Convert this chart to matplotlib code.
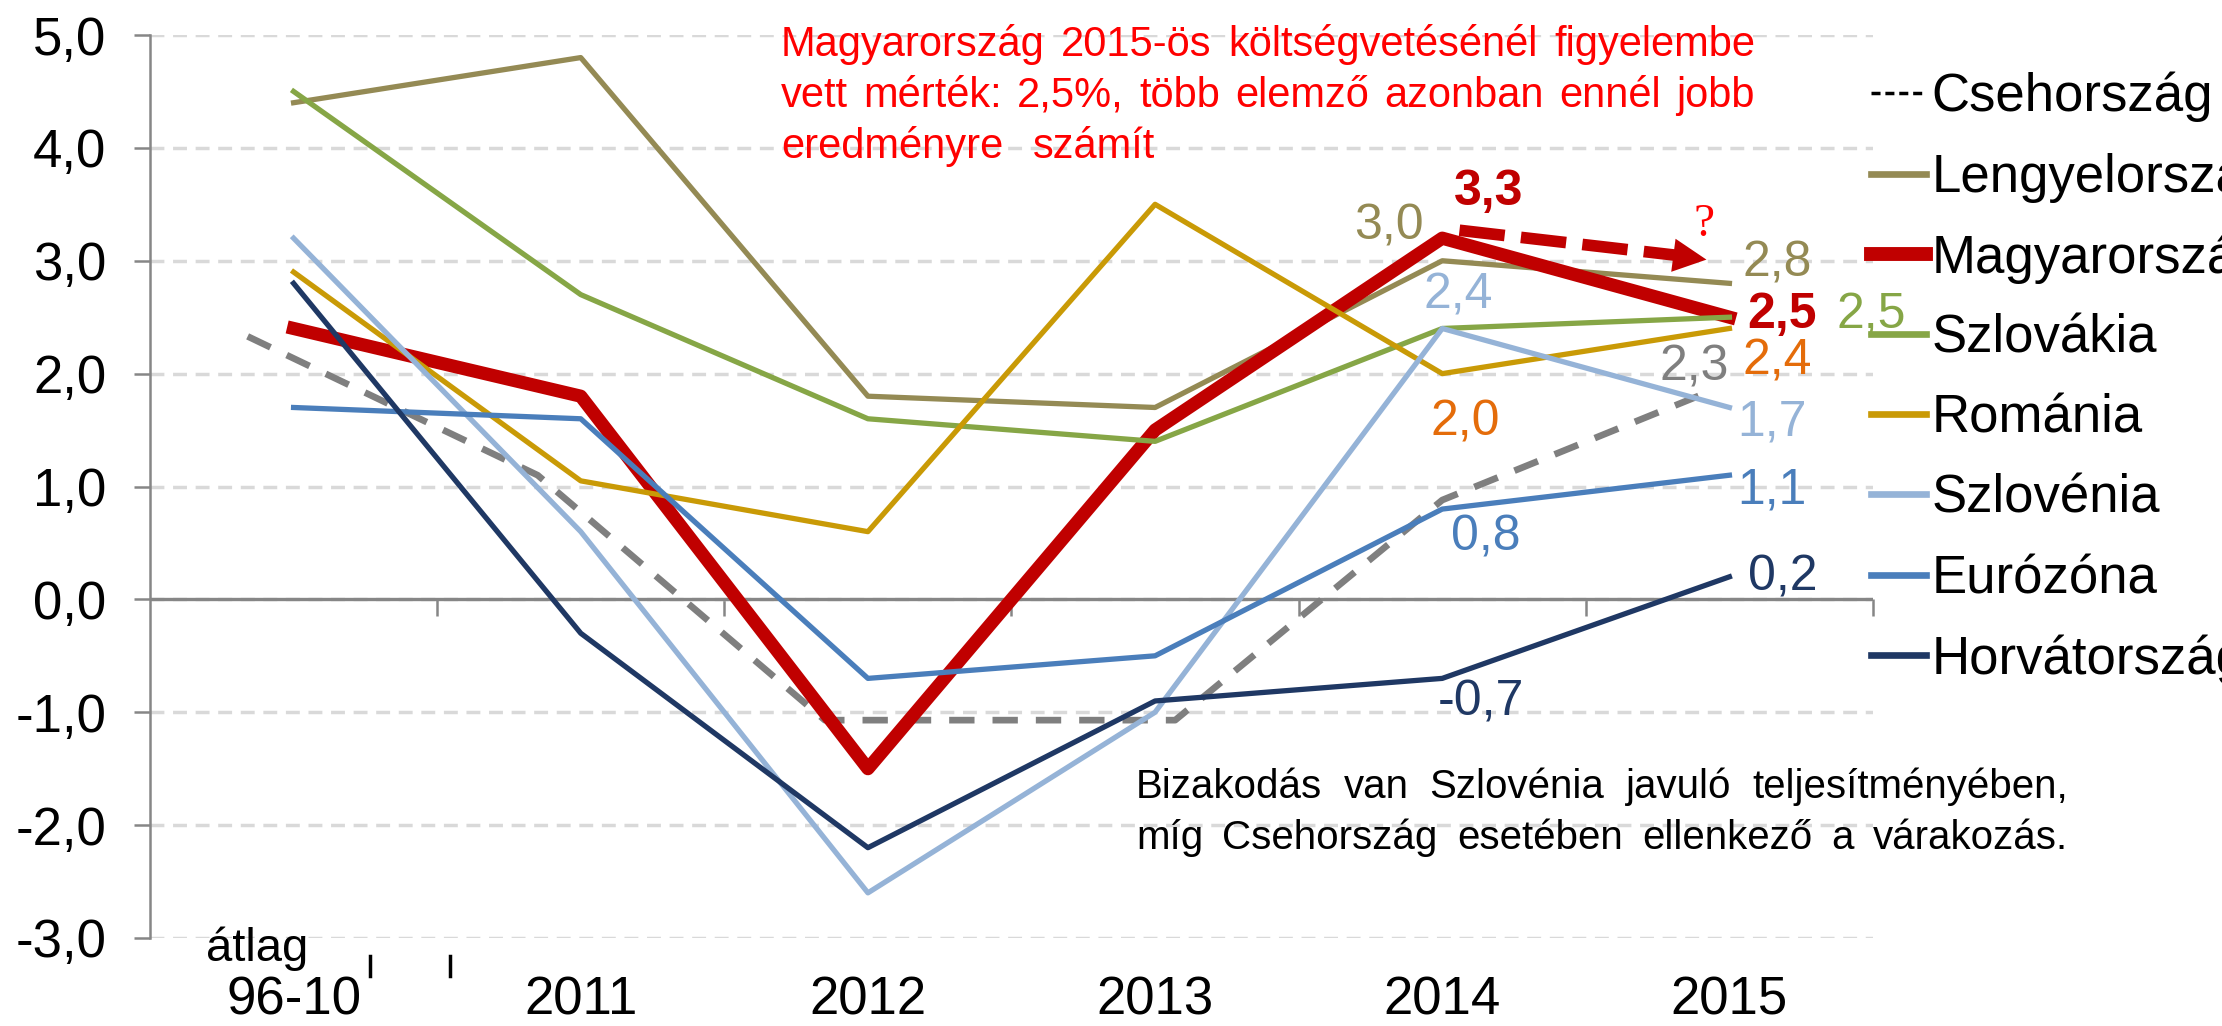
import numpy as np
import matplotlib
matplotlib.use('Agg')
import matplotlib.pyplot as plt
from matplotlib.lines import Line2D
from matplotlib.ticker import FuncFormatter

plt.rcParams['font.family'] = ['Liberation Sans', 'DejaVu Sans']

# GDP growth, %
categories = ['96-10', '2011', '2012', '2013', '2014', '2015']
lengyel = [4.4, 4.8, 1.8, 1.7, 3.0, 2.8]
magyar = [2.4, 1.8, -1.5, 1.5, 3.2, 2.5]
szlovakia = [4.5, 2.7, 1.6, 1.4, 2.4, 2.5]
romania = [2.9, 1.05, 0.6, 3.5, 2.0, 2.4]
szlovenia = [3.2, 0.6, -2.6, -1.0, 2.4, 1.7]
eurozona = [1.7, 1.6, -0.7, -0.5, 0.8, 1.1]
horvat = [2.8, -0.3, -2.2, -0.9, -0.7, 0.2]
# the Czech line is hand drawn in the original, not on the category centres
cseh_x = [-0.16, 0.85, 1.85, 3.07, 4.0, 4.9]
cseh_y = [2.33, 1.1, -1.07, -1.07, 0.88, 1.81]

legend_labels = ['Csehország', 'Lengyelország', 'Magyarország', 'Szlovákia',
                 'Románia', 'Szlovénia', 'Eurózóna', 'Horvátország']

W, H = 2222, 1026
fig = plt.figure(figsize=(W / 100, H / 100), dpi=100)
ax = fig.add_axes([150 / W, 88 / H, 1723 / W, 903 / H])
x = np.arange(len(categories))

GREY = '#868686'
RED = '#C00000'
ORANGE = '#E46C0A'
cols = {'lengyel': '#948A54', 'magyar': RED, 'szlovakia': '#86A646',
        'romania': '#C99A06', 'szlovenia': '#95B3D7', 'euro': '#4A7EBB',
        'horvat': '#1F3864'}
LW = 3.8

ax.plot(cseh_x, cseh_y, color='#7F7F7F', lw=4.8, ls=(0, (3.8, 2.7)),
        dash_capstyle='butt', zorder=3)
ax.plot(x, lengyel, color=cols['lengyel'], lw=LW, zorder=3)
ax.plot(x, magyar, color=RED, lw=9.5, zorder=4)
ax.plot(x, szlovakia, color=cols['szlovakia'], lw=LW, zorder=4)
ax.plot(x, romania, color=cols['romania'], lw=LW, zorder=4)
ax.plot(x, szlovenia, color=cols['szlovenia'], lw=LW, zorder=4)
ax.plot(x, eurozona, color=cols['euro'], lw=LW, zorder=4)
ax.plot(x, horvat, color=cols['horvat'], lw=LW, zorder=4)

ax.set_xlim(-0.5, len(categories) - 0.5)
ax.set_ylim(-3, 5)

# axes styling
ax.set_yticks(np.arange(-3, 6))
ax.yaxis.set_major_formatter(FuncFormatter(lambda v, _: f'{v:.1f}'.replace('.', ',')))
ax.tick_params(axis='y', direction='out', length=11.5, width=1.8, color=GREY,
               labelsize=38, pad=20)
ax.yaxis.grid(True, ls=(0, (4, 2.5)), color='#D9D9D9', lw=2.5)
ax.set_axisbelow(True)
for s in ['top', 'right', 'bottom']:
    ax.spines[s].set_visible(False)
ax.spines['left'].set_color(GREY)
ax.spines['left'].set_linewidth(1.8)

ax.set_xticks(x, categories)
ax.tick_params(axis='x', length=0, labelsize=38, pad=27)

# horizontal axis line at zero with category boundary ticks
ax.axhline(0, color=GREY, lw=2.4, zorder=2)
ylo, yhi = ax.get_ylim()
sec = ax.secondary_xaxis((0 - ylo) / (yhi - ylo))
sec.set_xticks(np.arange(0.5, len(categories), 1.0))
sec.tick_params(axis='x', direction='out', length=12, width=1.8, color=GREY,
                labelbottom=False)
sec.spines['bottom'].set_visible(False)

# data labels (offsets in points from the data point)
def lab(txt, xi, yv, dx, dy, color, bold=False, size=36):
    ax.annotate(txt, (xi, yv), xytext=(dx, dy), textcoords='offset points',
                ha='center', va='center', color=color, fontsize=size,
                fontweight='bold' if bold else 'normal', zorder=6)

k = 1 / 1.389
lab('3,0', 4, lengyel[4], -53 * k, 34 * k, cols['lengyel'])
lab('3,3', 4, magyar[4], 46 * k, 46 * k, RED, bold=True)
lab('2,4', 4, szlovenia[4], 16 * k, 33 * k, cols['szlovenia'])
lab('2,0', 4, romania[4], 23 * k, -49 * k, ORANGE)
lab('0,8', 4, eurozona[4], 44 * k, -28 * k, cols['euro'])
lab('-0,7', 4, horvat[4], 39 * k, -24 * k, cols['horvat'])
lab('2,8', 5, lengyel[5], 48 * k, 20 * k, cols['lengyel'])
lab('2,5', 5, magyar[5], 53 * k, 2 * k, RED, bold=True)
lab('2,5', 5, szlovakia[5], 142 * k, 2 * k, cols['szlovakia'])
lab('2,3', cseh_x[-1], cseh_y[-1], -6 * k, 28 * k, '#7F7F7F')
lab('2,4', 5, romania[5], 48 * k, -33 * k, ORANGE)
lab('1,7', 5, szlovenia[5], 43 * k, -15 * k, cols['szlovenia'])
lab('1,1', 5, eurozona[5], 43 * k, -15 * k, cols['euro'])
lab('0,2', 5, horvat[5], 53 * k, -1 * k, cols['horvat'])

# dashed red arrow with a question mark
ax.plot([4.06, 4.81], [3.27, 3.05], color=RED, lw=8.4, ls=(0, (3.9, 1.4)),
        dash_capstyle='butt', zorder=5)
ax.annotate('', xy=(4.92, 3.01), xytext=(4.80, 3.05),
            arrowprops=dict(arrowstyle='-|>,head_length=0.4,head_width=0.2',
                            color=RED, lw=0, mutation_scale=60,
                            shrinkA=0, shrinkB=0), zorder=5)
ax.text(4.91, 3.32, '?', color='#FF0000', fontsize=34, ha='center', va='center',
        family=['Liberation Serif', 'DejaVu Serif'])

# "átlag" and the two stray marks under the first category
fig.text(206 / W, 1 - 961 / H, 'átlag', fontsize=34, ha='left', va='baseline')
for px in (370, 450):
    fig.add_artist(Line2D([px / W, px / W], [1 - 956 / H, 1 - 976 / H],
                          color='black', lw=2.5))

# legend at the right, running off the edge as in the original
handles = [Line2D([], [], color='black', lw=2.5, ls=(0, (2.6, 1.4)))]
for c, lw in [(cols['lengyel'], 4.8), (RED, 10), (cols['szlovakia'], 4.8),
              (cols['romania'], 4.8), (cols['szlovenia'], 4.8),
              (cols['euro'], 4.8), (cols['horvat'], 4.8)]:
    handles.append(Line2D([], [], color=c, lw=lw))
fig.legend(handles, legend_labels, loc='upper left',
           bbox_to_anchor=(1871 / W, 1 - 72 / H), frameon=False, fontsize=38,
           handlelength=1.05, handletextpad=0.1, labelspacing=0.57,
           borderpad=0, borderaxespad=0)

# justified annotation paragraphs
renderer = fig.canvas.get_renderer()

def paragraph(lines, x0, x1, baselines, color, size, justify_last=True, gap_last=41):
    for n, (line, yb) in enumerate(zip(lines, baselines)):
        words = line.split(' ')
        parts = [fig.text(0, 1 - yb / H, w, fontsize=size, color=color,
                          ha='left', va='baseline') for w in words]
        widths = [p.get_window_extent(renderer).width for p in parts]
        if n < len(lines) - 1 or justify_last:
            gap = (x1 - x0 - sum(widths)) / (len(words) - 1)
        else:
            gap = gap_last
        pos = x0
        for p, w in zip(parts, widths):
            p.set_x(pos / W)
            pos += w + gap

paragraph(['Magyarország 2015-ös költségvetésénél figyelembe',
           'vett mérték: 2,5%, több elemző azonban ennél jobb',
           'eredményre számít'],
          781, 1755, [56, 107, 158], '#FF0000', 30, justify_last=False, gap_last=30)
paragraph(['Bizakodás van Szlovénia javuló teljesítményében,',
           'míg Csehország esetében ellenkező a várakozás.'],
          1136, 2068, [798, 849], 'black', 29)

fig.savefig('out.png', dpi=100)
